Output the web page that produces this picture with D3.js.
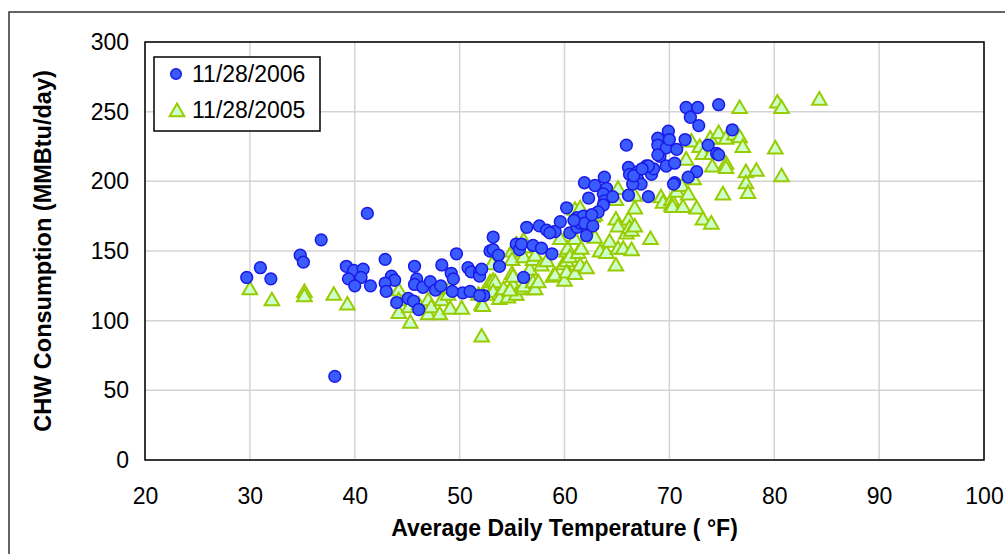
<!DOCTYPE html>
<html>
<head>
<meta charset="utf-8">
<script src="https://cdn.jsdelivr.net/npm/d3@7"></script>
<style>
  body { margin: 0; background: #fff; }
  svg text { font-family: "Liberation Sans", Arial, Helvetica, sans-serif; fill: #000; }
</style>
</head>
<body>
<div id="visContainer"></div>
<script>
// series names for the legend
const seriesNames = ["11/28/2006", "11/28/2005"];

// [avg daily temp (F), CHW consumption (MMBtu/day)]
const data2006 = [
  [29.7,131],[31.0,138],[32.0,130],[34.8,147],[35.1,142],[36.8,158],[38.1,60],[39.2,139],
  [39.9,136],[40.8,137],[39.4,130],[40.6,131],[40.0,125],[41.2,177],[41.5,125],[42.9,144],
  [43.5,132],[43.8,129],[42.9,127],[43.0,121],[44.0,113],[45.1,116],[45.6,114],[46.1,108],
  [45.7,139],[45.9,130],[45.7,126],[46.5,124],[47.2,128],[47.7,122],[48.3,140],[48.2,125],
  [49.2,134],[49.4,130],[49.7,148],[50.3,120],[49.3,121],[50.8,138],[51.1,135],[51.9,135],
  [51.9,132],[51.0,121],[52.9,150],[52.1,137],[52.3,118],[53.2,160],[53.2,151],[53.7,147],
  [53.8,139],[51.9,118],[55.4,155],[55.7,151],[55.9,155],[56.1,131],[56.4,167],[57.0,154],
  [57.6,168],[57.8,152],[58.3,165],[58.8,148],[59.1,164],[59.6,171],[60.2,181],[60.5,163],
  [61.2,167],[61.2,174],[61.5,170],[62.1,161],[61.8,175],[61.9,170],[62.7,168],[61.9,199],
  [62.9,197],[63.8,203],[64.0,195],[63.7,191],[62.3,188],[63.8,186],[63.7,183],[63.2,178],
  [65.9,226],[66.1,210],[66.2,205],[67.0,207],[67.0,201],[67.3,198],[66.5,198],[67.8,211],
  [68.3,205],[68.5,209],[66.1,190],[68.0,189],[68.0,211],[68.9,231],[68.9,226],[69.1,218],
  [69.7,224],[69.7,211],[69.9,236],[70.0,230],[70.5,213],[70.5,199],[70.4,198],[70.7,223],
  [71.5,230],[71.6,253],[72.7,253],[74.7,255],[72.0,246],[72.8,240],[76.0,237],[73.7,226],
  [74.5,220],[74.7,219],[72.6,207],[71.8,203],[68.9,219],[66.6,204],[67.4,209],[64.6,189],
  [62.6,176],[60.9,172],[58.6,163]
];

const data2005 = [
  [30.0,122],[32.1,114],[35.2,120],[35.2,117],[38.0,118],[39.3,111],[44.2,121],[44.2,114],
  [44.2,105],[45.2,109],[45.3,98],[46.1,111],[47.0,114],[47.0,104],[47.3,109],[48.1,104],
  [48.3,114],[48.9,118],[49.1,123],[49.1,108],[50.2,108],[51.8,118],[52.1,111],[52.1,88],
  [52.9,127],[53.1,140],[53.2,128],[53.1,121],[52.2,118],[52.2,110],[53.4,127],[53.2,120],
  [53.8,118],[54.5,118],[55.3,118],[53.8,115],[54.6,116],[54.2,122],[55.1,125],[55.4,118],
  [56.1,122],[56.9,122],[54.8,121],[55.0,149],[55.0,143],[55.0,133],[55.1,131],[55.4,154],
  [56.1,157],[56.1,152],[56.1,145],[56.1,124],[56.7,136],[57.0,143],[57.0,127],[57.2,146],
  [57.2,122],[57.5,127],[57.8,139],[58.3,142],[58.9,131],[59.1,132],[59.6,158],[59.9,140],
  [60.0,128],[60.2,149],[60.2,142],[60.2,134],[60.3,151],[60.5,145],[61.0,179],[61.0,158],
  [61.0,133],[61.2,168],[61.3,148],[61.5,180],[61.5,139],[61.6,151],[62.1,137],[62.4,161],
  [62.7,174],[62.9,175],[62.9,159],[63.4,149],[64.0,148],[64.3,156],[64.9,172],[64.9,139],
  [64.9,186],[65.1,194],[65.1,167],[65.1,151],[65.6,151],[65.9,162],[66.1,172],[66.2,166],
  [66.4,164],[66.4,150],[66.7,189],[66.7,180],[66.7,167],[68.2,158],[69.2,188],[69.4,184],
  [70.2,186],[70.2,182],[70.3,181],[70.7,192],[71.2,196],[71.3,181],[71.6,215],[71.8,190],
  [72.1,228],[72.3,201],[72.6,180],[72.9,224],[73.2,219],[73.2,172],[73.9,230],[74.0,219],
  [74.0,169],[74.1,210],[74.7,234],[75.1,190],[75.4,230],[75.4,212],[75.4,209],[76.2,233],
  [76.7,252],[76.7,231],[77.0,224],[77.3,206],[77.3,198],[77.5,191],[78.3,207],[80.1,223],
  [80.3,256],[80.7,252],[80.7,203],[84.3,258]
];

const xTicks = [20, 30, 40, 50, 60, 70, 80, 90, 100];
const yTicks = [0, 50, 100, 150, 200, 250, 300];

const width = 1005;
const height = 554;
const margin = {top: 42, right: 21, bottom: 94, left: 145};

const svg = d3
  .select("#visContainer")
  .append("svg")
  .attr("width", width)
  .attr("height", height);

// outer chart frame (runs off the right and bottom edge)
svg.append("rect")
  .attr("x", 9).attr("y", 12)
  .attr("width", 1010).attr("height", 560)
  .attr("fill", "#fff")
  .attr("stroke", "#333")
  .attr("stroke-width", 1.5);

const xScale = d3.scaleLinear()
  .domain([20, 100])
  .range([margin.left, width - margin.right]);

const yScale = d3.scaleLinear()
  .domain([0, 300])
  .range([height - margin.bottom, margin.top]);

// gridlines
svg.append("g")
  .selectAll("line")
  .data(xTicks)
  .join("line")
  .attr("x1", (d) => xScale(d)).attr("x2", (d) => xScale(d))
  .attr("y1", yScale(0)).attr("y2", yScale(300))
  .attr("stroke", "#d4d4d4")
  .attr("stroke-width", 1.5);

svg.append("g")
  .selectAll("line")
  .data(yTicks)
  .join("line")
  .attr("x1", xScale(20)).attr("x2", xScale(100))
  .attr("y1", (d) => yScale(d)).attr("y2", (d) => yScale(d))
  .attr("stroke", "#d4d4d4")
  .attr("stroke-width", 1.5);

// axes: labels only, plot border drawn below
const xAxis = svg.append("g")
  .attr("transform", `translate(0, ${yScale(0)})`)
  .call(d3.axisBottom(xScale).tickValues(xTicks).tickSize(0).tickPadding(28));
xAxis.select(".domain").remove();
xAxis.selectAll("text").style("font-size", "23px").attr("fill", "#000");

const yAxis = svg.append("g")
  .attr("transform", `translate(${margin.left}, 0)`)
  .call(d3.axisLeft(yScale).tickValues(yTicks).tickSize(0).tickPadding(16));
yAxis.select(".domain").remove();
yAxis.selectAll("text").style("font-size", "23px").attr("fill", "#000");

// 2005 triangles
const tri = d3.symbol().type(d3.symbolTriangle).size(92);
svg.append("g")
  .selectAll("path")
  .data(data2005)
  .join("path")
  .attr("d", tri)
  .attr("transform", (d) => `translate(${xScale(d[0])}, ${yScale(d[1])})`)
  .attr("fill", "#ccffcc")
  .attr("stroke", "#99cc00")
  .attr("stroke-width", 2);

// 2006 circles
svg.append("g")
  .selectAll("circle")
  .data(data2006)
  .join("circle")
  .attr("cx", (d) => xScale(d[0]))
  .attr("cy", (d) => yScale(d[1]))
  .attr("r", 5.9)
  .attr("fill", "#3a5cff")
  .attr("stroke", "#1a1ae8")
  .attr("stroke-width", 1.5);

// plot border
svg.append("rect")
  .attr("x", xScale(20)).attr("y", yScale(300))
  .attr("width", xScale(100) - xScale(20))
  .attr("height", yScale(0) - yScale(300))
  .attr("fill", "none")
  .attr("stroke", "#000")
  .attr("stroke-width", 1.5);

// axis titles
svg.append("text")
  .attr("x", (xScale(20) + xScale(100)) / 2)
  .attr("y", 536)
  .attr("text-anchor", "middle")
  .style("font-size", "23px")
  .style("font-weight", "bold")
  .text("Average Daily Temperature ( °F)");

svg.append("text")
  .attr("transform", `translate(51, ${(yScale(0) + yScale(300)) / 2}) rotate(-90)`)
  .attr("text-anchor", "middle")
  .style("font-size", "23.5px")
  .style("font-weight", "bold")
  .text("CHW Consumption (MMBtu/day)");

// legend
const legend = svg.append("g").attr("transform", "translate(154, 57)");
legend.append("rect")
  .attr("width", 166).attr("height", 74)
  .attr("fill", "#fff")
  .attr("stroke", "#000")
  .attr("stroke-width", 1.5);

legend.append("circle")
  .attr("cx", 22).attr("cy", 17)
  .attr("r", 5.3)
  .attr("fill", "#3a5cff")
  .attr("stroke", "#1a1ae8")
  .attr("stroke-width", 1.5);

legend.append("path")
  .attr("d", tri)
  .attr("transform", "translate(23, 55)")
  .attr("fill", "#ccffcc")
  .attr("stroke", "#99cc00")
  .attr("stroke-width", 2);

legend.selectAll("text.lbl")
  .data(seriesNames)
  .join("text")
  .attr("class", "lbl")
  .attr("x", 38)
  .attr("y", (d, i) => 25 + i * 36)
  .style("font-size", "23px")
  .text((d) => d);
</script>
</body>
</html>
